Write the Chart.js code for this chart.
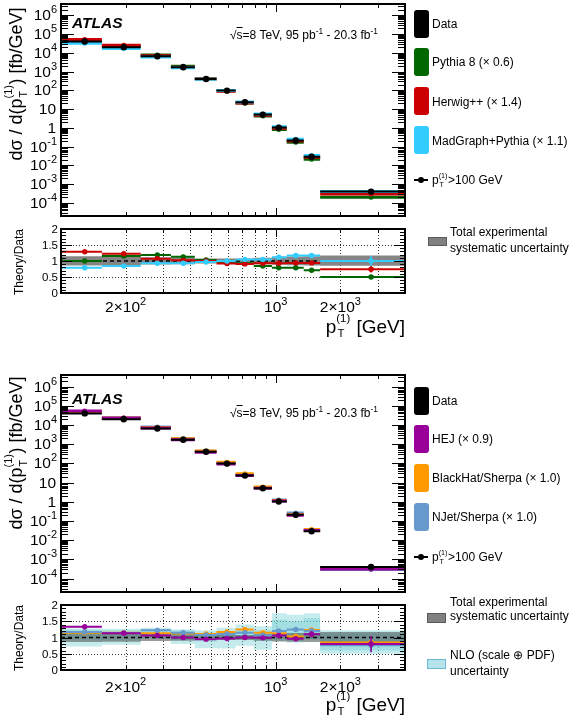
<!DOCTYPE html>
<html>
<head>
<meta charset="utf-8">
<script src="https://cdn.jsdelivr.net/npm/chart.js@4/dist/chart.umd.min.js"></script>
<style>
  body { margin: 0; width: 582px; height: 718px; position: relative; overflow: hidden; background: #fff;
         font-family: "Liberation Sans", Arial, Helvetica, sans-serif; color: #000; }
  canvas { position: absolute; left: 0; top: 0; }
  .txt { position: absolute; white-space: nowrap; line-height: 1; }
  .ytitle { font-size: 18px; transform: translate(-50%, -50%) rotate(-90deg); }
  .rtitle { font-size: 12px; transform: translate(-50%, -50%) rotate(-90deg); }
  .xtitle { font-size: 19px; right: 177px; }
  .ss { position: relative; display: inline-block; width: 0.78em; height: 0; }
  .ss .u { position: absolute; left: 0; bottom: 0.72em; font-size: 0.6em; line-height: 1; }
  .ss .d { position: absolute; left: 0.1em; top: -0.4em; font-size: 0.6em; line-height: 1; }
  .atlas { font-size: 15.5px; font-weight: bold; font-style: italic; }
  .lumi { font-size: 12px; }
  .lumi sup { font-size: 0.7em; line-height: 0; }
  .leg { font-size: 12px; }
  .box { position: absolute; left: 414px; width: 15px; height: 28px; border-radius: 3px; }
  .two { position: absolute; white-space: nowrap; font-size: 12px; left: 450px; }
</style>
</head>
<body>
<canvas id="topMain" width="582" height="718"></canvas>
<canvas id="topRatio" width="582" height="718"></canvas>
<canvas id="botMain" width="582" height="718"></canvas>
<canvas id="botRatio" width="582" height="718"></canvas>

<!-- top panel texts -->
<div class="txt ytitle" style="left:16px;top:84px">dσ / d(p<span class="ss"><span class="u">(1)</span><span class="d">T</span></span>) [fb/GeV]</div>
<div class="txt rtitle" style="left:19px;top:262px">Theory/Data</div>
<div class="txt xtitle" style="top:317px">p<span class="ss"><span class="u">(1)</span><span class="d">T</span></span> [GeV]</div>
<div class="txt atlas" style="left:72px;top:15px">ATLAS</div>
<div class="txt lumi" style="left:230px;top:29px">√<span style="text-decoration:overline">s</span>=8 TeV, 95 pb<sup>-1</sup> - 20.3 fb<sup>-1</sup></div>

<div class="box" style="top:10px;background:#000000"></div>
<div class="box" style="top:48px;background:#006600"></div>
<div class="box" style="top:87px;background:#cc0000"></div>
<div class="box" style="top:126px;background:#33ccff"></div>
<div class="txt leg" style="left:432px;top:18px">Data</div>
<div class="txt leg" style="left:432px;top:56px">Pythia 8 (× 0.6)</div>
<div class="txt leg" style="left:432px;top:96px">Herwig++ (× 1.4)</div>
<div class="txt leg" style="left:432px;top:135px">MadGraph+Pythia (× 1.1)</div>
<div style="position:absolute;left:414px;top:179px;width:14px;height:1.5px;background:#000"></div>
<div style="position:absolute;left:418px;top:177px;width:6px;height:6px;border-radius:50%;background:#000"></div>
<div class="txt leg" style="left:432px;top:174px">p<span class="ss"><span class="u">(1)</span><span class="d">T</span></span>&gt;100 GeV</div>
<div style="position:absolute;left:428px;top:237px;width:17px;height:7px;background:#808080;border:1px solid #5a5a5a"></div>
<div class="two" style="top:224px;line-height:16px">Total experimental<br>systematic uncertainty</div>

<!-- bottom panel texts -->
<div class="txt ytitle" style="left:16px;top:453px">dσ / d(p<span class="ss"><span class="u">(1)</span><span class="d">T</span></span>) [fb/GeV]</div>
<div class="txt rtitle" style="left:19px;top:638px">Theory/Data</div>
<div class="txt xtitle" style="top:695px">p<span class="ss"><span class="u">(1)</span><span class="d">T</span></span> [GeV]</div>
<div class="txt atlas" style="left:72px;top:391px">ATLAS</div>
<div class="txt lumi" style="left:230px;top:407px">√<span style="text-decoration:overline">s</span>=8 TeV, 95 pb<sup>-1</sup> - 20.3 fb<sup>-1</sup></div>

<div class="box" style="top:387px;background:#000000"></div>
<div class="box" style="top:425px;background:#990099"></div>
<div class="box" style="top:464px;background:#ff9900"></div>
<div class="box" style="top:503px;background:#6699cc"></div>
<div class="txt leg" style="left:432px;top:395px">Data</div>
<div class="txt leg" style="left:432px;top:433px">HEJ (× 0.9)</div>
<div class="txt leg" style="left:432px;top:472px">BlackHat/Sherpa (× 1.0)</div>
<div class="txt leg" style="left:432px;top:511px">NJet/Sherpa (× 1.0)</div>
<div style="position:absolute;left:414px;top:556px;width:14px;height:1.5px;background:#000"></div>
<div style="position:absolute;left:418px;top:554px;width:6px;height:6px;border-radius:50%;background:#000"></div>
<div class="txt leg" style="left:432px;top:551px">p<span class="ss"><span class="u">(1)</span><span class="d">T</span></span>&gt;100 GeV</div>
<div style="position:absolute;left:427px;top:613px;width:17px;height:8px;background:#808080;border:1px solid #5a5a5a"></div>
<div class="two" style="top:595px;line-height:14px">Total experimental<br>systematic uncertainty</div>
<div style="position:absolute;left:427px;top:659px;width:17px;height:8px;background:#b4e4ea;border:1px solid #6cb8d8"></div>
<div class="two" style="top:647px;line-height:16px">NLO (scale ⊕ PDF)<br>uncertainty</div>

<script>
// bins in leading-jet pT (GeV)
const ptEdges = [100, 155, 235, 325, 420, 530, 650, 790, 960, 1125, 1350, 1610, 4000];
const ptCentres = [129, 196, 281, 371, 474, 593, 719, 871, 1033, 1240, 1469, 2780];

// tick values
const xTickValues = [200, 300, 400, 500, 600, 700, 800, 900, 1000, 2000, 3000];
const xLabelValues = [200, 1000, 2000];
const xLabelTexts = [['2×10', '2'], ['10', '3'], ['2×10', '3']];
const yPowers = [6, 5, 4, 3, 2, 1, 0, -1, -2, -3, -4];
const ratioLabelValues = [0, 0.5, 1, 1.5, 2];
const ratioLabelTexts = ['0', '0.5', '1', '1.5', '2'];

// cross sections (fb/GeV)
const dataXsec = [4.0e4, 2.0e4, 6.5e3, 1.7e3, 400, 97, 23, 5.1, 1.03, 0.21, 0.029, 4.0e-4];
const pythia8Xsec = [4.0e4, 2.3e4, 7.7e3, 1.9e3, 410, 95, 21, 4.3, 0.81, 0.17, 0.021, 2.0e-4];
const herwigXsec = [5.2e4, 2.5e4, 7.0e3, 1.7e3, 400, 89, 21, 4.7, 0.96, 0.20, 0.027, 3.0e-4];
const madgraphXsec = [3.2e4, 1.7e4, 6.0e3, 1.6e3, 390, 97, 24, 5.4, 1.15, 0.25, 0.034, 4.0e-4];
const hejXsec = [5.3e4, 2.3e4, 6.9e3, 1.7e3, 380, 94, 23, 5.0, 1.09, 0.20, 0.032, 3.2e-4];
const blackhatXsec = [4.6e4, 2.3e4, 7.3e3, 1.9e3, 444, 113, 29, 5.9, 1.16, 0.22, 0.036, 3.4e-4];
const njetXsec = [4.7e4, 2.3e4, 7.9e3, 2.0e3, 432, 108, 26, 5.5, 1.24, 0.26, 0.035, 3.0e-4];

// theory / data
const ratioPythia8 = [1.00, 1.16, 1.19, 1.13, 1.03, 0.98, 0.93, 0.84, 0.79, 0.79, 0.71, 0.50];
const ratioHerwig = [1.29, 1.23, 1.07, 1.02, 1.00, 0.92, 0.91, 0.93, 0.93, 0.94, 0.94, 0.74];
const ratioMadgraph = [0.79, 0.84, 0.93, 0.93, 0.97, 1.00, 1.05, 1.05, 1.12, 1.17, 1.17, 1.00];
const errPythia8 = [0.01, 0.01, 0.01, 0.01, 0.01, 0.01, 0.01, 0.02, 0.02, 0.03, 0.03, 0.05];
const errHerwig = [0.02, 0.02, 0.02, 0.02, 0.02, 0.02, 0.02, 0.02, 0.03, 0.04, 0.05, 0.10];
const errMadgraph = [0.02, 0.02, 0.02, 0.02, 0.02, 0.02, 0.03, 0.03, 0.04, 0.05, 0.06, 0.16];

const ratioHej = [1.33, 1.13, 1.06, 1.00, 0.95, 0.97, 1.00, 0.99, 1.06, 0.96, 1.10, 0.80];
const ratioBlackhat = [1.15, 1.15, 1.13, 1.12, 1.11, 1.17, 1.25, 1.15, 1.13, 1.03, 1.23, 0.85];
const ratioNjet = [1.17, 1.14, 1.22, 1.15, 1.08, 1.11, 1.15, 1.07, 1.20, 1.25, 1.20, 0.76];
const errHej = [0.03, 0.02, 0.02, 0.02, 0.02, 0.02, 0.03, 0.03, 0.04, 0.05, 0.10, 0.25];
const errBlackhat = [0.01, 0.01, 0.01, 0.01, 0.02, 0.02, 0.02, 0.03, 0.04, 0.04, 0.06, 0.12];
const errNjet = [0.02, 0.02, 0.02, 0.02, 0.02, 0.03, 0.03, 0.04, 0.05, 0.06, 0.08, 0.20];

// uncertainty bands (ratio units)
const sysUp = [1.15, 1.14, 1.12, 1.11, 1.08, 1.08, 1.08, 1.10, 1.13, 1.14, 1.15, 1.17];
const sysDown = [0.86, 0.87, 0.89, 0.90, 0.92, 0.92, 0.92, 0.90, 0.88, 0.87, 0.86, 0.85];
const nloBlackhatUp = [1.28, 1.27, 1.24, 1.25, 1.22, 1.30, 1.40, 1.35, 1.55, 1.50, 1.60, 1.12];
const nloBlackhatDown = [0.95, 0.95, 0.97, 0.92, 0.88, 0.95, 1.00, 0.90, 0.90, 0.85, 0.95, 0.60];
const nloNjetUp = [1.24, 1.22, 1.30, 1.22, 1.15, 1.20, 1.25, 1.22, 1.75, 1.70, 1.75, 1.22];
const nloNjetDown = [0.72, 0.78, 1.00, 0.80, 0.67, 0.66, 0.75, 0.62, 0.97, 0.95, 0.95, 0.50];

const FONT = '"Liberation Sans", Arial, Helvetica, sans-serif';

// helpers to turn bin arrays into line data
function steps(vals) {
  const pts = [];
  vals.forEach((v, i) => {
    pts.push({x: ptEdges[i], y: v}, {x: ptEdges[i + 1], y: v}, {x: ptEdges[i + 1], y: null});
  });
  return pts;
}
function errBars(vals, errs) {
  const pts = [];
  vals.forEach((v, i) => {
    pts.push({x: ptCentres[i], y: v - errs[i]}, {x: ptCentres[i], y: v + errs[i]}, {x: ptCentres[i], y: null});
  });
  return pts;
}
function bandShape(up, down) {
  const pts = [];
  up.forEach((v, i) => pts.push({x: ptEdges[i], y: v}, {x: ptEdges[i + 1], y: v}));
  for (let i = down.length - 1; i >= 0; i--) pts.push({x: ptEdges[i + 1], y: down[i]}, {x: ptEdges[i], y: down[i]});
  return pts;
}
const stepDs = (vals, colour, w) => ({data: steps(vals), borderColor: colour, borderWidth: w, pointRadius: 0, fill: false});
const dotDs = (vals, colour, r) => ({data: vals.map((v, i) => ({x: ptCentres[i], y: v})), showLine: false,
  pointRadius: r, pointBackgroundColor: colour, pointBorderWidth: 0, borderColor: colour});
const errDs = (vals, errs, colour) => ({data: errBars(vals, errs), borderColor: colour, borderWidth: 1.5, pointRadius: 0, fill: false});
const bandDs = (up, down, colour) => ({data: bandShape(up, down), borderWidth: 0, pointRadius: 0, fill: 'shape', backgroundColor: colour});
const unityDs = () => ({data: [{x: 100, y: 1}, {x: 4000, y: 1}], borderColor: '#000', borderWidth: 1.5, borderDash: [4, 3], pointRadius: 0, fill: false});

function drawPow(ctx, base, exp, x, y, align, size) {
  ctx.font = size + 'px ' + FONT;
  const wb = ctx.measureText(base).width;
  const es = Math.round(size * 0.7);
  let we = 0;
  if (exp) { ctx.font = es + 'px ' + FONT; we = ctx.measureText(exp).width; }
  const x0 = align === 'right' ? x - wb - we : align === 'center' ? x - (wb + we) / 2 : x;
  ctx.textAlign = 'left';
  ctx.textBaseline = 'alphabetic';
  ctx.font = size + 'px ' + FONT;
  ctx.fillText(base, x0, y);
  if (exp) { ctx.font = es + 'px ' + FONT; ctx.fillText(exp, x0 + wb, y - size * 0.45); }
}
function seg(ctx, x1, y1, x2, y2) { ctx.beginPath(); ctx.moveTo(x1, y1); ctx.lineTo(x2, y2); ctx.stroke(); }

// ROOT-like frame: inward ticks, dotted grid, labels
const rootFrame = {
  id: 'rootFrame',
  beforeDatasetsDraw(chart, args, o) {
    if (!o.grid) return;
    const {ctx, chartArea: a, scales: {x, y}} = chart;
    ctx.save();
    ctx.strokeStyle = '#333';
    ctx.lineWidth = 1;
    ctx.setLineDash([1, 2]);
    xTickValues.forEach(v => { const px = Math.round(x.getPixelForValue(v)) + 0.5; seg(ctx, px, a.top, px, a.bottom); });
    [0.5, 1.5].forEach(v => { const py = Math.round(y.getPixelForValue(v)) + 0.5; seg(ctx, a.left, py, a.right, py); });
    ctx.restore();
  },
  afterDraw(chart, args, o) {
    const {ctx, chartArea: a, scales: {x, y}} = chart;
    ctx.save();
    ctx.strokeStyle = '#000';
    ctx.fillStyle = '#000';
    ctx.lineWidth = 1;
    // x ticks
    xTickValues.forEach(v => {
      const px = Math.round(x.getPixelForValue(v)) + 0.5;
      const len = v === 1000 ? 8 : 4;
      seg(ctx, px, a.bottom, px, a.bottom - len);
      seg(ctx, px, a.top, px, a.top + len);
    });
    // y ticks
    if (o.log) {
      for (let e = -5; e <= 6; e++) {
        for (let k = 1; k <= 9; k++) {
          const v = k * Math.pow(10, e);
          if (v < y.min || v > y.max) continue;
          const py = Math.round(y.getPixelForValue(v)) + 0.5;
          const len = k === 1 ? 13 : 7;
          seg(ctx, a.left, py, a.left + len, py);
          seg(ctx, a.right, py, a.right - len, py);
        }
      }
      yPowers.forEach(n => {
        const py = y.getPixelForValue(Math.pow(10, n)) + 5;
        if (n === 1) drawPow(ctx, '10', '', 56, py, 'right', 15.5);
        else if (n === 0) drawPow(ctx, '1', '', 56, py, 'right', 15.5);
        else drawPow(ctx, '10', String(n), 57, py, 'right', 15.5);
      });
    } else {
      for (let i = 0; i <= 20; i++) {
        const py = Math.round(y.getPixelForValue(i / 10)) + 0.5;
        const len = i % 5 === 0 ? 11 : 5;
        seg(ctx, a.left, py, a.left + len, py);
        seg(ctx, a.right, py, a.right - len, py);
      }
      ratioLabelValues.forEach((v, i) => {
        drawPow(ctx, ratioLabelTexts[i], '', 58, y.getPixelForValue(v) + 4, 'right', 11.5);
      });
    }
    if (o.xLabels) {
      xLabelValues.forEach((v, i) => {
        drawPow(ctx, xLabelTexts[i][0], xLabelTexts[i][1], x.getPixelForValue(v), a.bottom + o.xLabelGap, 'center', 15.5);
      });
    }
    ctx.lineWidth = 2;
    ctx.strokeRect(a.left, a.top, a.right - a.left, a.bottom - a.top);
    ctx.restore();
  }
};

function makeChart(id, datasets, pad, yOpts, frameOpts) {
  return new Chart(document.getElementById(id), {
    type: 'line',
    data: {datasets},
    options: {
      responsive: false,
      devicePixelRatio: 1,
      animation: false,
      events: [],
      layout: {padding: pad},
      elements: {line: {tension: 0}},
      spanGaps: false,
      scales: {
        x: {type: 'logarithmic', min: 100, max: 4000, display: false, bounds: 'data'},
        y: Object.assign({display: false, bounds: 'data'}, yOpts)
      },
      plugins: {legend: {display: false}, tooltip: {enabled: false}, rootFrame: frameOpts}
    },
    plugins: [rootFrame]
  });
}

const mainY = {type: 'logarithmic', min: 2e-5, max: 4e6};
const ratioY = {type: 'linear', min: 0, max: 2};

makeChart('topMain', [
  dotDs(dataXsec, '#000', 3.2),
  stepDs(dataXsec, '#000', 2),
  dotDs(madgraphXsec, '#33ccff', 2.5),
  stepDs(madgraphXsec, '#33ccff', 3),
  dotDs(herwigXsec, '#cc0000', 2.5),
  stepDs(herwigXsec, '#cc0000', 3),
  dotDs(pythia8Xsec, '#006600', 2.5),
  stepDs(pythia8Xsec, '#006600', 3)
], {left: 61, right: 177, top: 1, bottom: 502}, mainY, {log: true});

makeChart('topRatio', [
  dotDs(ratioMadgraph, '#33ccff', 2.7),
  errDs(ratioMadgraph, errMadgraph, '#33ccff'),
  stepDs(ratioMadgraph, '#33ccff', 2),
  dotDs(ratioHerwig, '#cc0000', 2.7),
  errDs(ratioHerwig, errHerwig, '#cc0000'),
  stepDs(ratioHerwig, '#cc0000', 2),
  dotDs(ratioPythia8, '#006600', 2.7),
  errDs(ratioPythia8, errPythia8, '#006600'),
  stepDs(ratioPythia8, '#006600', 2),
  unityDs(),
  bandDs(sysUp, sysDown, 'rgba(120,120,120,0.9)')
], {left: 61, right: 177, top: 229, bottom: 425}, ratioY, {log: false, grid: true, xLabels: true, xLabelGap: 19});

makeChart('botMain', [
  dotDs(dataXsec, '#000', 3.2),
  stepDs(dataXsec, '#000', 2),
  dotDs(hejXsec, '#990099', 2.5),
  stepDs(hejXsec, '#990099', 3),
  dotDs(blackhatXsec, '#ff9900', 2.5),
  stepDs(blackhatXsec, '#ff9900', 3),
  dotDs(njetXsec, '#6699cc', 2.5),
  stepDs(njetXsec, '#6699cc', 3)
], {left: 61, right: 177, top: 375, bottom: 126}, mainY, {log: true});

makeChart('botRatio', [
  dotDs(ratioHej, '#990099', 2.7),
  errDs(ratioHej, errHej, '#990099'),
  stepDs(ratioHej, '#990099', 2),
  dotDs(ratioNjet, '#6699cc', 2.7),
  errDs(ratioNjet, errNjet, '#6699cc'),
  stepDs(ratioNjet, '#6699cc', 2),
  dotDs(ratioBlackhat, '#ff9900', 2.7),
  errDs(ratioBlackhat, errBlackhat, '#ff9900'),
  stepDs(ratioBlackhat, '#ff9900', 2),
  unityDs(),
  bandDs(sysUp, sysDown, 'rgba(80,90,90,0.6)'),
  bandDs(nloNjetUp, nloNjetDown, 'rgba(110,205,210,0.4)'),
  bandDs(nloBlackhatUp, nloBlackhatDown, 'rgba(110,205,210,0.4)')
], {left: 61, right: 177, top: 605, bottom: 48}, ratioY, {log: false, grid: true, xLabels: true, xLabelGap: 22});
</script>
</body>
</html>
